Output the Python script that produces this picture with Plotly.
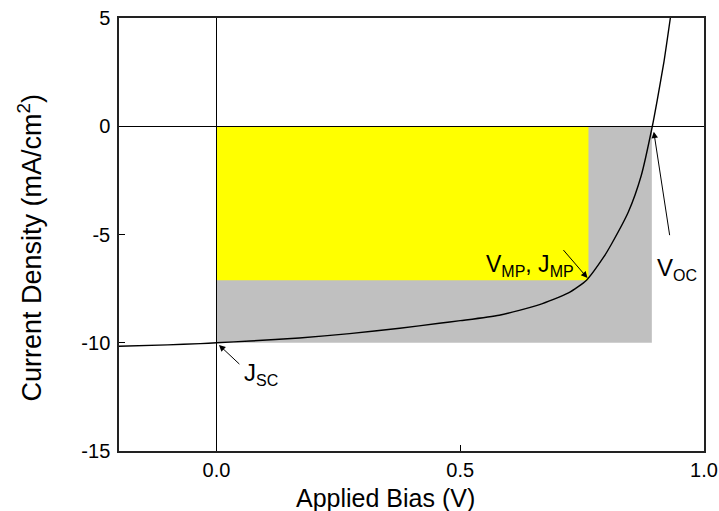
import plotly.graph_objects as go

# J-V curve data
bias_v = [-0.2, -0.1, -0.033, 0.0, 0.069, 0.17, 0.273, 0.376, 0.457, 0.5, 0.58, 0.661,
          0.722, 0.759, 0.794, 0.81, 0.845, 0.871, 0.894, 0.904, 0.918, 0.931]
current_density = [-10.16, -10.1, -10.04, -10.0, -9.92, -9.78, -9.58, -9.33, -9.1, -8.98, -8.73, -8.25,
                    -7.7, -7.11, -6.05, -5.45, -3.95, -2.3, 0.0, 1.2, 3.0, 5.0]

# key points
v_mp, j_mp = 0.763, -7.11
v_oc, j_sc = 0.893, -10.0

x_ticks = [0.0, 0.5, 1.0]
x_tick_labels = ["0.0", "0.5", "1.0"]
y_ticks = [5, 0, -5, -10, -15]
y_tick_labels = ["5", "0", "-5", "-10", "-15"]

x_title = "Applied Bias (V)"
y_title = "Current Density (mA/cm<sup>2</sup>)"

fig = go.Figure()
fig.add_trace(go.Scatter(x=bias_v, y=current_density, mode="lines",
                         line=dict(color="black", width=1.4, shape="spline", smoothing=0.6),
                         hoverinfo="skip", showlegend=False))

fig.add_shape(type="rect", x0=0, x1=v_oc, y0=0, y1=j_sc, xref="x", yref="y",
              fillcolor="#c0c0c0", line=dict(width=0), layer="below")
fig.add_shape(type="rect", x0=0, x1=v_mp, y0=0, y1=j_mp, xref="x", yref="y",
              fillcolor="#ffff00", line=dict(width=0), layer="below")

font_main = "Liberation Sans, Arial, sans-serif"


def sub(t):
    return '<sub><span style="font-size:16px">' + t + '</span></sub>'


fig.add_annotation(x=0.005, y=j_sc - 0.1, ax=0.05, ay=-11.05, xref="x", yref="y",
                   axref="x", ayref="y", text="", showarrow=True, arrowhead=2,
                   arrowsize=1.3, arrowwidth=1, arrowcolor="black")
fig.add_annotation(x=0.053, y=-11.45, xref="x", yref="y", text="J" + sub("SC"),
                   xanchor="left", showarrow=False,
                   font=dict(size=24, color="black", family=font_main))

fig.add_annotation(x=v_mp - 0.002, y=j_mp + 0.1, ax=0.709, ay=-5.65, xref="x", yref="y",
                   axref="x", ayref="y", text="", showarrow=True, arrowhead=2,
                   arrowsize=1.3, arrowwidth=1, arrowcolor="black")
fig.add_annotation(x=0.548, y=-6.45, xref="x", yref="y",
                   text="V" + sub("MP") + ", J" + sub("MP"),
                   xanchor="left", showarrow=False,
                   font=dict(size=23, color="black", family=font_main))

fig.add_annotation(x=v_oc + 0.004, y=-0.25, ax=0.93, ay=-5.1, xref="x", yref="y",
                   axref="x", ayref="y", text="", showarrow=True, arrowhead=2,
                   arrowsize=1.3, arrowwidth=1, arrowcolor="black")
fig.add_annotation(x=0.9, y=-6.6, xref="x", yref="y", text="V" + sub("OC"),
                   xanchor="left", showarrow=False,
                   font=dict(size=24, color="black", family=font_main))

# axis titles as annotations (placed as in the reference)
fig.add_annotation(x=0.456, y=-0.108, xref="paper", yref="paper", text=x_title,
                   showarrow=False, xanchor="center", yanchor="middle",
                   font=dict(size=25, color="black", family=font_main))
fig.add_annotation(x=-0.152, y=0.47, xref="paper", yref="paper", text=y_title,
                   showarrow=False, xanchor="center", yanchor="middle", textangle=-90,
                   font=dict(size=27, color="black", family=font_main))

fig.update_layout(
    width=719, height=511,
    margin=dict(l=119, r=15, t=18, b=60),
    plot_bgcolor="white", paper_bgcolor="white",
    font=dict(family=font_main, size=20, color="black"),
    showlegend=False,
)
fig.update_xaxes(range=[-0.2, 1.0], tickvals=x_ticks, ticktext=x_tick_labels,
                 ticks="inside", ticklen=6, tickcolor="black", tickwidth=1,
                 showline=True, linecolor="#222", linewidth=1.5, mirror=True,
                 showgrid=False, zeroline=True, zerolinecolor="black", zerolinewidth=1.2,
                 automargin=False, tickfont=dict(size=20))
fig.update_yaxes(range=[-15, 5], tickvals=y_ticks, ticktext=y_tick_labels,
                 ticks="inside", ticklen=6, tickcolor="black", tickwidth=1,
                 showline=True, linecolor="#222", linewidth=1.5, mirror=True,
                 showgrid=False, zeroline=True, zerolinecolor="black", zerolinewidth=1.2,
                 automargin=False, tickfont=dict(size=20), ticklabelstandoff=3)

fig.write_html("out.html", config={"displayModeBar": False},
               post_script="document.body.style.margin='0';")
